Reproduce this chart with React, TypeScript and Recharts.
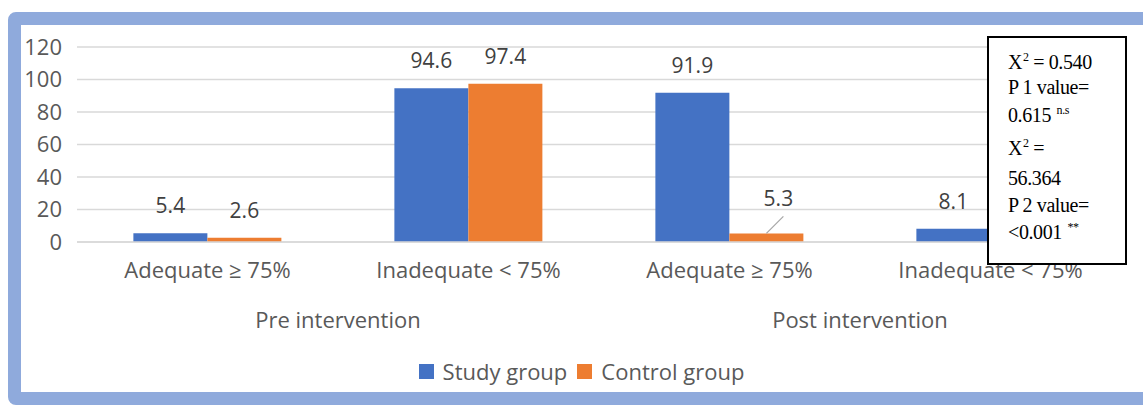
import { BarChart, Bar, XAxis, YAxis, CartesianGrid, Legend, LabelList } from 'recharts';

const categories = ['Adequate ≥ 75%', 'Inadequate < 75%', 'Adequate ≥ 75%', 'Inadequate < 75%'];
const phases = ['Pre intervention', 'Pre intervention', 'Post intervention', 'Post intervention'];
const studyGroup = [5.4, 94.6, 91.9, 8.1];
const controlGroup = [2.6, 97.4, 5.3, 94.7];
const yTicks = [0, 20, 40, 60, 80, 100, 120];
const seriesNames = ['Study group', 'Control group'];
const seriesColors = ['#4472C4', '#ED7D31'];

const data = categories.map((c, i) => ({
  category: c,
  phase: phases[i],
  study: studyGroup[i],
  control: controlGroup[i],
}));

const FONT = '"Open Sans", sans-serif';
const TEXT = '#595959';

const ValueLabel = (props: any) => {
  const { x, y, width, value, index, leaderIndex } = props;
  const cx = x + width / 2;
  if (index === leaderIndex) {
    return (
      <g>
        <line x1={cx} y1={y} x2={cx + 17} y2={y - 17} stroke="#A6A6A6" strokeWidth={1.2} />
        <text x={cx + 12} y={y - 27} textAnchor="middle" fill="#404040" fontSize={21} fontFamily={FONT}>
          {value}
        </text>
      </g>
    );
  }
  return (
    <text x={cx} y={y - 20} textAnchor="middle" fill="#404040" fontSize={21} fontFamily={FONT}>
      {value}
    </text>
  );
};

const LegendContent = () => (
  <div style={{ display: 'flex', justifyContent: 'center', alignItems: 'center', fontFamily: FONT, fontSize: 22, color: TEXT }}>
    {seriesNames.map((n, i) => (
      <span key={n} style={{ display: 'flex', alignItems: 'center', marginRight: i === 0 ? 10 : 0 }}>
        <span style={{ width: 15, height: 15, background: seriesColors[i], display: 'inline-block', marginRight: 9 }} />
        {n}
      </span>
    ))}
  </div>
);

const Sup = ({ children }: any) => (
  <sup style={{ fontSize: 12, lineHeight: 0, verticalAlign: 'super', marginLeft: 1 }}>{children}</sup>
);

export default function App() {
  return (
    <div style={{ position: 'absolute', left: 0, top: 0, width: 1143, height: 410, background: '#fff', overflow: 'hidden' }}>
      {/* frame */}
      <div
        style={{
          position: 'absolute',
          left: 8,
          top: 12,
          width: 1160,
          height: 393,
          boxSizing: 'border-box',
          border: '13px solid #8FAADC',
          borderRadius: 8,
        }}
      />
      <div style={{ position: 'absolute', left: 0, top: 0 }}>
        <BarChart
          width={1143}
          height={410}
          data={data}
          margin={{ top: 47, right: 22, left: 0, bottom: 0 }}
          barCategoryGap="21.6%"
          barGap={0}
        >
          <CartesianGrid vertical={false} stroke="#D9D9D9" strokeWidth={1.5} />
          <YAxis
            domain={[0, 120]}
            ticks={yTicks}
            width={77}
            axisLine={false}
            tickLine={false}
            tickSize={0}
            tickMargin={15}
            tick={{ fill: TEXT, fontSize: 22, fontFamily: FONT }}
          />
          <XAxis
            dataKey="category"
            height={50}
            axisLine={{ stroke: '#D9D9D9', strokeWidth: 1.5 }}
            tickLine={false}
            tickSize={0}
            tickMargin={20}
            interval={0}
            tick={{ fill: TEXT, fontSize: 22, fontFamily: FONT }}
          />
          <XAxis
            xAxisId="phase"
            dataKey="phase"
            allowDuplicatedCategory={false}
            height={88}
            axisLine={false}
            tickLine={false}
            tickSize={0}
            tickMargin={20}
            interval={0}
            tick={{ fill: TEXT, fontSize: 22, fontFamily: FONT }}
          />
          <Legend
            verticalAlign="bottom"
            content={<LegendContent />}
            wrapperStyle={{ top: 356, left: 21, height: 30 }}
          />
          <Bar dataKey="study" name={seriesNames[0]} fill={seriesColors[0]} isAnimationActive={false}>
            <LabelList dataKey="study" content={<ValueLabel leaderIndex={-1} />} />
          </Bar>
          <Bar dataKey="control" name={seriesNames[1]} fill={seriesColors[1]} isAnimationActive={false}>
            <LabelList dataKey="control" content={<ValueLabel leaderIndex={2} />} />
          </Bar>
        </BarChart>
      </div>
      {/* statistics box */}
      <div
        style={{
          position: 'absolute',
          left: 987,
          top: 36,
          width: 140,
          height: 229,
          boxSizing: 'border-box',
          border: '2px solid #000',
          background: '#fff',
          fontFamily: '"Liberation Serif", "Times New Roman", serif',
          fontSize: 20,
          color: '#000',
          letterSpacing: -0.4,
        }}
      >
        {[
          { top: 12, node: <>X<Sup>2</Sup> = 0.540</> },
          { top: 37, node: <>P 1 value=</> },
          { top: 65, node: <>0.615 <Sup>n.s</Sup></> },
          { top: 98, node: <>X<Sup>2</Sup> =</> },
          { top: 128, node: <>56.364</> },
          { top: 155, node: <>P 2 value=</> },
          { top: 182, node: <>&lt;0.001 <Sup>**</Sup></> },
        ].map((l, i) => (
          <div key={i} style={{ position: 'absolute', left: 19, top: l.top, lineHeight: '24px', whiteSpace: 'nowrap' }}>
            {l.node}
          </div>
        ))}
      </div>
    </div>
  );
}
